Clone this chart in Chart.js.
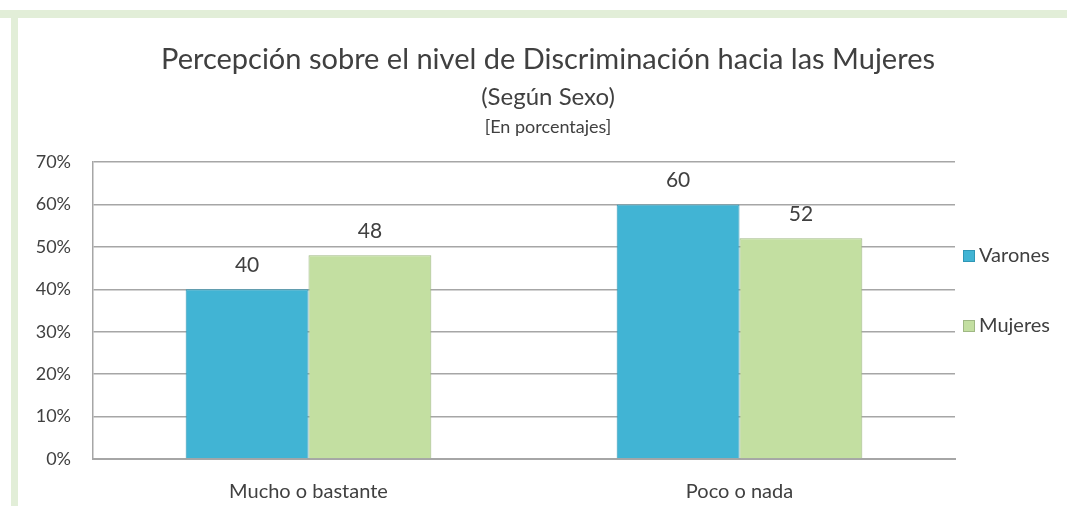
<!DOCTYPE html>
<html>
<head>
<meta charset="utf-8">
<script src="https://cdn.jsdelivr.net/npm/chart.js@4"></script>
<style>
  html, body { margin: 0; padding: 0; background: #fff; }
  #wrap { width: 1067px; height: 506px; position: relative; }
</style>
</head>
<body>
<div id="wrap"><canvas id="chart" width="1067" height="506"></canvas></div>
<script>
const categories = ["Mucho o bastante", "Poco o nada"];
const varones = [40, 60];
const mujeres = [48, 52];
const seriesNames = ["Varones", "Mujeres"];
const yTicks = [0, 10, 20, 30, 40, 50, 60, 70];

const titleLines = [
  "Percepción sobre el nivel de Discriminación hacia las Mujeres",
  "(Según Sexo)",
  "[En porcentajes]"
];

const FONT = "Lato, 'Open Sans', sans-serif";
const TEXT = "#404040";

// frame + titles
const framePlugin = {
  id: "frame",
  beforeDraw(chart) {
    const ctx = chart.ctx;
    ctx.save();
    ctx.fillStyle = "#ffffff";
    ctx.fillRect(0, 0, chart.width, chart.height);
    ctx.fillStyle = "#e2eed8";
    ctx.fillRect(0, 10, chart.width, 8);
    ctx.fillRect(11, 10, 7, chart.height - 10);
    ctx.restore();
  },
  afterDraw(chart) {
    const ctx = chart.ctx;
    ctx.save();
    ctx.fillStyle = TEXT;
    ctx.textAlign = "center";
    ctx.textBaseline = "middle";
    ctx.font = "29px " + FONT;
    ctx.fillText(titleLines[0], 548, 60);
    ctx.font = "24px " + FONT;
    ctx.fillText(titleLines[1], 548, 97);
    ctx.font = "18px " + FONT;
    ctx.fillText(titleLines[2], 548, 127);
    ctx.restore();
  }
};

// value labels above bars
const valuePlugin = {
  id: "values",
  afterDatasetsDraw(chart) {
    const ctx = chart.ctx;
    ctx.save();
    ctx.fillStyle = TEXT;
    ctx.font = "21px " + FONT;
    ctx.textAlign = "center";
    ctx.textBaseline = "middle";
    chart.data.datasets.forEach((ds, i) => {
      chart.getDatasetMeta(i).data.forEach((bar, j) => {
        ctx.fillText(ds.data[j], bar.x, bar.y - 24);
      });
    });
    ctx.restore();
  }
};

// legend on the right
const legendPlugin = {
  id: "sideLegend",
  afterDraw(chart) {
    const ctx = chart.ctx;
    const ys = [256, 326];
    ctx.save();
    ctx.font = "20px " + FONT;
    ctx.textBaseline = "middle";
    chart.data.datasets.forEach((ds, i) => {
      ctx.fillStyle = ds.backgroundColor;
      ctx.fillRect(963, ys[i] - 6, 12, 12);
      ctx.strokeStyle = ds.borderColor;
      ctx.lineWidth = 1;
      ctx.strokeRect(963.5, ys[i] - 5.5, 11, 11);
      ctx.fillStyle = TEXT;
      ctx.fillText(ds.label, 979, ys[i]);
    });
    ctx.restore();
  }
};

new Chart(document.getElementById("chart"), {
  type: "bar",
  data: {
    labels: categories,
    datasets: [
      {
        label: seriesNames[0],
        data: varones,
        backgroundColor: "#41b4d4",
        borderColor: "#2f97b6",
        borderWidth: 1
      },
      {
        label: seriesNames[1],
        data: mujeres,
        backgroundColor: "#c3dfa1",
        borderColor: "#9fb884",
        borderWidth: 1
      }
    ]
  },
  options: {
    responsive: false,
    animation: false,
    layout: { padding: { top: 162, right: 112, left: 0, bottom: 0 } },
    datasets: {
      bar: { categoryPercentage: 0.57, barPercentage: 1 }
    },
    plugins: {
      legend: { display: false },
      tooltip: { enabled: false }
    },
    scales: {
      x: {
        grid: { display: false, drawTicks: false },
        border: { color: "#a6a6a6", width: 2 },
        ticks: { color: TEXT, font: { family: FONT, size: 20 }, padding: 21 },
        afterFit: s => { s.height = 47; }
      },
      y: {
        min: 0,
        max: 70,
        afterBuildTicks: s => { s.ticks = yTicks.map(v => ({ value: v })); },
        grid: { color: "#a6a6a6", lineWidth: 1.5, drawTicks: false },
        border: { color: "#a6a6a6", width: 1.5 },
        ticks: {
          color: TEXT,
          font: { family: FONT, size: 18 },
          padding: 22,
          callback: v => v + "%"
        },
        afterFit: s => { s.width = 93; }
      }
    }
  },
  plugins: [framePlugin, valuePlugin, legendPlugin]
});
</script>
</body>
</html>
